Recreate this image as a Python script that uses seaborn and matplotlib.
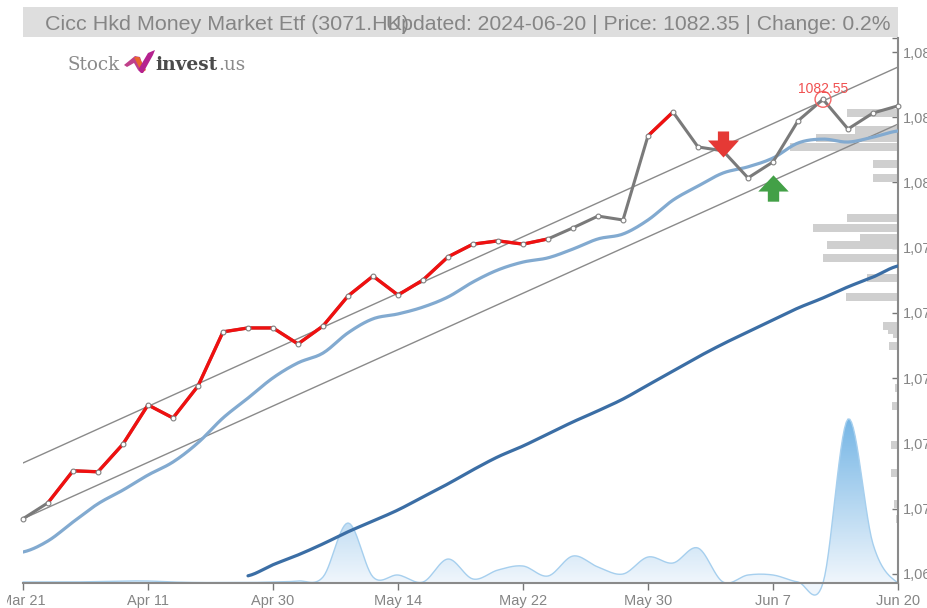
import numpy as np
import seaborn as sns
import matplotlib.pyplot as plt
from matplotlib.path import Path
from matplotlib.patches import Polygon, Rectangle
from matplotlib.colors import LinearSegmentedColormap
from matplotlib.transforms import Bbox

dates = ["Mar 21", "Apr 11", "Apr 30", "May 14", "May 22", "May 30", "Jun 7", "Jun 20"]
date_idx = [0, 5, 10, 15, 20, 25, 30, 35]
price_ticks = [1068, 1070, 1072, 1074, 1076, 1078, 1080, 1082, 1084]
price_labels = ["1,068", "1,070", "1,072", "1,074", "1,076", "1,078", "1,080", "1,082", "1,084"]

price = [1069.69, 1070.18, 1071.16, 1071.13, 1071.98, 1073.18, 1072.78, 1073.76, 1075.42,
	1075.54, 1075.54, 1075.05, 1075.60, 1076.52, 1077.13, 1076.55, 1077.01, 1077.72,
	1078.11, 1078.21, 1078.11, 1078.27, 1078.61, 1078.97, 1078.85, 1081.43, 1082.16,
	1081.09, 1080.97, 1080.14, 1080.63, 1081.89, 1082.55, 1081.64, 1082.13, 1082.35]
red_runs = [(1, 21), (25, 26)]

ma_short = [1068.67, 1069.01, 1069.59, 1070.15, 1070.57, 1071.03, 1071.43, 1072.02, 1072.78,
	1073.39, 1074.01, 1074.47, 1074.77, 1075.39, 1075.82, 1075.97, 1076.18, 1076.49,
	1076.95, 1077.32, 1077.56, 1077.69, 1077.96, 1078.27, 1078.42, 1078.85, 1079.46,
	1079.89, 1080.29, 1080.48, 1080.75, 1081.21, 1081.33, 1081.24, 1081.39, 1081.58]

ma_long_start = 9
ma_long = [1067.94, 1068.28, 1068.58, 1068.92, 1069.29, 1069.62, 1069.96, 1070.36, 1070.76,
	1071.19, 1071.59, 1071.92, 1072.29, 1072.66, 1073.00, 1073.36, 1073.79, 1074.22,
	1074.65, 1075.05, 1075.42, 1075.79, 1076.15, 1076.46, 1076.80, 1077.10, 1077.44]

trend_x = [0, 35]
trend_upper = [1071.40, 1083.54]
trend_lower = [1069.69, 1081.79]

volume = [1, 1, 1, 1.5, 2, 2, 1, 0.5, 0.5, 0.5, 1, 2, 6, 60, 6, 8, 1, 24, 4, 13, 17, 7, 27,
	16, 9, 26, 20, 35, 1, 8, 8, 1, 0, 164, 39, 0]

hist_levels = [1082.13, 1081.62, 1081.36, 1081.09, 1080.57, 1080.14, 1078.91, 1078.61,
	1078.30, 1078.08, 1077.69, 1077.07, 1076.49, 1075.60, 1075.48, 1075.36, 1075.00,
	1073.70, 1073.16, 1071.95, 1071.10, 1070.15, 1069.69]
hist_sizes = [2.04, 1.72, 3.28, 4.32, 1.0, 1.0, 2.04, 3.4, 1.52, 2.84, 3.0, 1.24, 2.08,
	0.6, 0.4, 0.2, 0.36, 0.12, 0.24, 0.28, 0.28, 0.14, 0.06]

sell_at = (28, 1081.18)
buy_at = (30, 1079.82)
peak_at = (32, 1082.55)

title_left = "Cicc Hkd Money Market Etf (3071.HK)"
title_right = "Updated: 2024-06-20 | Price: 1082.35 | Change: 0.2%"


def smooth(v, n=14):
	# catmull-rom through the daily values, like the spline in the original
	v = np.asarray(v, dtype=float)
	p = np.r_[v[0], v, v[-1]]
	m = (p[2:] - p[:-2]) / 2
	t = np.linspace(0, 1, n, endpoint=False)[:, None]
	a = 2*t**3 - 3*t**2 + 1
	b = t**3 - 2*t**2 + t
	c = -2*t**3 + 3*t**2
	d = t**3 - t**2
	y = (a*v[:-1] + b*m[:-1] + c*v[1:] + d*m[1:]).T.ravel()
	x = (t + np.arange(len(v) - 1)).T.ravel()
	return np.r_[x, len(v) - 1], np.r_[y, v[-1]]


def px(x, y):
	return x / 928, 1 - y / 608


sns.set_theme(style="white")
plt.rcParams['font.family'] = ['Liberation Sans', 'DejaVu Sans']

W, H = 928, 608
fig = plt.figure(figsize=(W / 100, H / 100), dpi=100)
left, bottom = px(23, 583)
ax = fig.add_axes([left, bottom, 875 / W, 545 / H])
vol = ax.twinx()
ax.set_zorder(vol.get_zorder() + 1)
ax.patch.set_visible(False)

# title strip
fig.add_artist(Rectangle(px(23, 37), 875 / W, 30 / H, transform=fig.transFigure, color="#dedede", lw=0, zorder=-5))
GREY = "#858585"
fig.text(*px(45, 24), title_left, fontsize=15.45, color=GREY, va="center")
fig.text(*px(891, 24), title_right, fontsize=15.25, color=GREY, va="center", ha="right")

# logo
fig.text(*px(68, 65), "Stock", family="DejaVu Serif", fontsize=13.2, color="#8a8a8a", va="center")
fig.text(*px(155, 65), "invest", family="DejaVu Serif", weight="bold", fontsize=13.4, color="#4a4a4a", va="center")
fig.text(*px(218, 65), ".us", family="DejaVu Serif", fontsize=13.2, color="#8a8a8a", va="center")
logo = [
	([(124, 65), (135, 56), (140, 57), (143, 66), (138, 70), (134, 63), (127, 67)], "#c0408a"),
	([(134, 57), (139, 57), (146, 70), (142, 73)], "#e8662c"),
	([(141, 73), (138, 70), (148, 53), (155, 50), (153, 55), (143, 73)], "#b5228f"),
]
for pts, col in logo:
	fig.add_artist(Polygon([px(*p) for p in pts], closed=True, transform=fig.transFigure, color=col, lw=0))

# volume area with vertical gradient
vx, vy = smooth(volume)
grad = LinearSegmentedColormap.from_list("vol", ["#f0f6fc", "#74b5e5"])
img = vol.imshow(np.linspace(1, 0, 200)[:, None], extent=[0, 35, 0, 166], cmap=grad, aspect="auto", zorder=1)
img2 = vol.imshow([[0, 0]], extent=[0, 35, -20, 0], cmap=grad, vmin=0, vmax=1, aspect="auto", zorder=1)
shape = Polygon(np.c_[np.r_[vx, 35, 0], np.r_[vy, 0, 0]], closed=True, transform=vol.transData, fc="none", ec="none")
vol.add_patch(shape)
for im in (img, img2):
	im.set_clip_path(shape)
	im.set_clip_box(fig.bbox)
vol.plot(vx, vy, color="#a6cfee", lw=1, clip_on=False, zorder=2)
vol.set_ylim(0, 545)
vol.set_xlim(0, 35)
vol.axis("off")

# volume by price on the right
ax.barh(hist_levels, [-s for s in hist_sizes], left=35, height=0.245, color="#cfcfcf", lw=0, zorder=1)

sns.lineplot(x=trend_x, y=trend_upper, ax=ax, color="#8a8a8a", lw=1, zorder=2)
sns.lineplot(x=trend_x, y=trend_lower, ax=ax, color="#8a8a8a", lw=1, zorder=2)

sx, sy = smooth(ma_short)
sns.lineplot(x=sx, y=sy, ax=ax, color="#82aad0", lw=2.3, estimator=None, sort=False, zorder=3)
lx, ly = smooth(ma_long)
sns.lineplot(x=lx + ma_long_start, y=ly, ax=ax, color="#3b6ea5", lw=2.3, estimator=None, sort=False, zorder=3)

days = np.arange(len(price))
sns.lineplot(x=days, y=price, ax=ax, color="#7a7a7a", lw=2.2, zorder=4)
for a, b in red_runs:
	sns.lineplot(x=days[a:b + 1], y=price[a:b + 1], ax=ax, color="#f01010", lw=2.4, zorder=5)
sns.scatterplot(x=days, y=price, ax=ax, s=12, color="white", edgecolor="#808080", linewidth=0.8, zorder=6, clip_on=False)

# signals
arrow_down = Path([(-2.8, 6.5), (2.8, 6.5), (2.8, 2), (7.75, 2), (0, -6.5), (-7.75, 2), (-2.8, 2), (-2.8, 6.5)], closed=True)
arrow_up = Path([(-2.8, -6.5), (2.8, -6.5), (2.8, -1.5), (7.5, -1.5), (0, 6.5), (-7.5, -1.5), (-2.8, -1.5), (-2.8, -6.5)], closed=True)
ax.scatter(*sell_at, marker=arrow_down, s=500, color="#e53935", lw=0, zorder=7)
ax.scatter(*buy_at, marker=arrow_up, s=480, color="#43a047", lw=0, zorder=7)

ax.scatter(*peak_at, s=130, facecolor="none", edgecolor="#f56565", lw=1, zorder=7)
ax.annotate(f"{peak_at[1]:.2f}", peak_at, xytext=(0, 2.5), textcoords="offset points", ha="center", va="bottom",
	fontsize=10, color="#f05050", zorder=8)

# axes
ax.set_xlim(0, 35)
ax.set_ylim(1067.72, 1084.43)
ax.yaxis.tick_right()
ax.yaxis.set_label_position("right")
ax.set_xticks(date_idx, dates)
ax.set_yticks(price_ticks, price_labels)
ax.set_yticks([1084.43], minor=True)
ax.set_xlabel("")
ax.set_ylabel("")
for s in ("top", "left"):
	ax.spines[s].set_visible(False)
for s in ("right", "bottom"):
	ax.spines[s].set_color("#8a8a8a")
	ax.spines[s].set_linewidth(1.5)
ax.tick_params(axis="x", which="major", direction="out", bottom=True, length=5, width=1, color="#777777",
	labelsize=10.5, labelcolor=GREY, pad=3)
ax.tick_params(axis="y", which="both", direction="in", right=True, left=False, length=4.5, width=1, color="#777777",
	labelsize=10.5, labelcolor=GREY, pad=3.5)

# first date label is cut by the chart frame in the original
first = ax.get_xticklabels()[0]
first.set_clip_on(True)
first.set_clip_box(Bbox([[7, 0], [928, 608]]))

fig.savefig("out.png", dpi=100)
